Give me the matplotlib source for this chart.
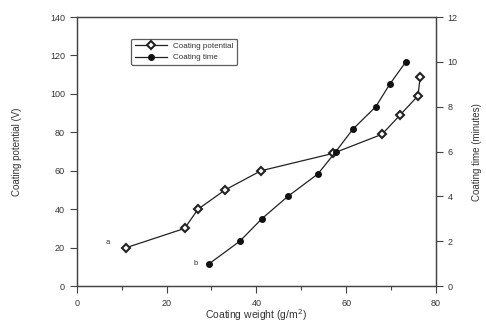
import matplotlib
matplotlib.use("Agg")
import matplotlib.pyplot as plt
from matplotlib.ticker import MultipleLocator

plt.rcParams['font.family'] = ['Liberation Sans', 'DejaVu Sans']

# coating potential (left axis, V)
w_pot = [11, 24, 27, 33, 41, 57, 68, 72, 76, 76.5]
potential = [20, 30, 40, 50, 60, 69, 79, 89, 99, 109]

# coating time (right axis, minutes)
w_time = [29.5, 36.3, 41.2, 47, 53.7, 57.7, 61.5, 66.6, 69.7, 73.3]
ctime = [1, 2, 3, 4, 5, 6, 7, 8, 9, 10]

fig = plt.figure(figsize=(4.86, 3.27), dpi=100)
ax = fig.add_axes([0.158, 0.125, 0.739, 0.823])
ax2 = ax.twinx()

txt = '#333333'
l1, = ax.plot(w_pot, potential, color='#222222', lw=0.9, marker='D', ms=4.2,
              mfc='white', mec='#222222', mew=1.5, label='Coating potential')
l2, = ax2.plot(w_time, ctime, color='#222222', lw=0.9, marker='o', ms=4,
               mfc='#111111', mec='#111111', label='Coating time')

ax.set_xlim(0, 80)
ax.set_ylim(0, 140)
ax2.set_ylim(0, 12)
ax.xaxis.set_major_locator(MultipleLocator(20))
ax.xaxis.set_minor_locator(MultipleLocator(10))
ax.yaxis.set_major_locator(MultipleLocator(20))
ax2.yaxis.set_major_locator(MultipleLocator(2))

for a in (ax, ax2):
    a.tick_params(which='both', direction='out', colors='#444444', labelcolor=txt,
                  labelsize=6.5, width=0.8)
    a.tick_params(which='major', length=5)
    a.tick_params(which='minor', length=3)
    for s in a.spines.values():
        s.set_color('#444444')
        s.set_linewidth(0.9)
ax.tick_params(axis='x', pad=4)

ax.set_xlabel('Coating weight (g/m$^2$)', fontsize=7.5, color=txt, labelpad=0)
ax.set_ylabel('Coating potential (V)', fontsize=7, color=txt, labelpad=20)
ax2.set_ylabel('Coating time (minutes)', fontsize=7, color=txt, labelpad=10)

ax.text(6.9, 22.8, 'a', fontsize=5.5, color=txt, ha='center', va='center')
ax.text(26.5, 12, 'b', fontsize=5.5, color=txt, ha='center', va='center')

leg = ax.legend(handles=[l1, l2], loc='upper left', bbox_to_anchor=(0.14, 0.935),
                fontsize=5.8, frameon=True, fancybox=True, edgecolor='#333333',
                handlelength=4.0, borderpad=0.45, labelspacing=0.5, markerscale=1.0)
leg.get_frame().set_linewidth(0.9)
for t in leg.get_texts():
    t.set_color(txt)

fig.savefig('out.png', dpi=100)
